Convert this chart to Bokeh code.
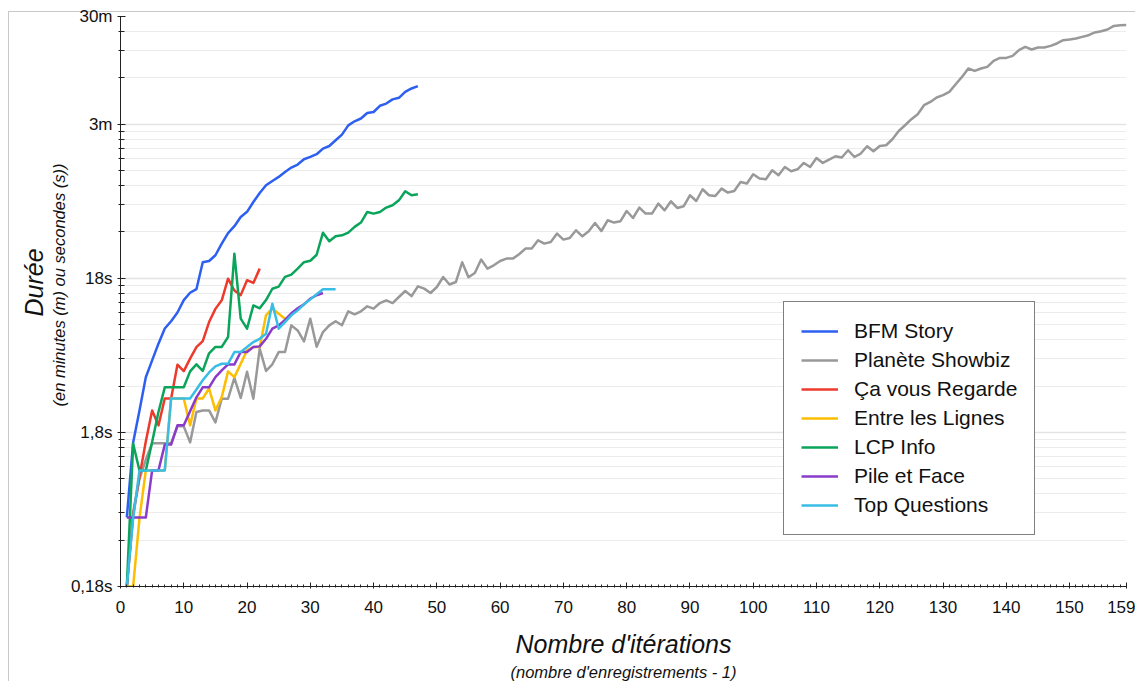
from bokeh.plotting import figure
from bokeh.models import (Range1d, FixedTicker, CustomJSTickFormatter, Legend,
                          LegendItem, Title)
from bokeh.embed import file_html
from bokeh.resources import INLINE

# ---------------- data (durations in seconds, iteration index starts at 1) ----
series_names = ["BFM Story", "Planète Showbiz", "Ça vous Regarde",
                "Entre les Lignes", "LCP Info", "Pile et Face", "Top Questions"]

bfm_story = [0.505, 1.55, 2.50, 4.10, 5.28, 6.78, 8.5, 9.47, 10.8, 13.0,
             14.5, 15.3, 22.9, 23.3, 25.4, 30.2, 35.4, 39.2, 45.0, 48.6,
             56.3, 64.4, 72.3, 77.1, 81.9, 88.2, 94.2, 98.5, 106.7, 110.4,
             115, 125, 130, 141.7, 154, 177, 188, 196, 213, 216,
             237, 245, 261, 267, 292, 307, 318]

planete_showbiz = [0.18, 0.55, 0.9, 1.2, 1.53, 1.53, 1.53, 1.53, 1.97, 1.97,
                   1.55, 2.44, 2.50, 2.50, 2.09, 2.98, 2.98, 4.07, 3.01, 4.46,
                   2.98, 6.30, 4.51, 4.98, 5.98, 5.98, 8.91, 8.26, 7.02, 9.85,
                   6.48, 8.06, 8.91, 9.47, 8.92, 10.99, 10.51, 10.99, 11.84, 11.44,
                   12.44, 12.96, 12.44, 13.61, 14.89, 13.79, 15.97, 15.43, 14.45, 15.80,
                   18.35, 16.41, 17.03, 22.86, 18.27, 19.48, 23.81, 20.81, 21.86, 23.31,
                   24.16, 24.16, 25.77, 28.06, 28.06, 31.77, 30.23, 30.97, 35.11, 32.10,
                   32.88, 36.89, 33.72, 36.34, 41.14, 36.50, 42.83, 41.39, 42.20, 49.22,
                   44.33, 51.79, 47.34, 47.34, 54.98, 49.74, 56.90, 51.48, 52.80, 62.25,
                   57.16, 68.08, 62.25, 61.59, 68.80, 64.81, 66.37, 75.93, 74.14, 85.20,
                   79.89, 79.06, 90.45, 83.93, 95.02, 89.10, 91.81, 100.9, 95.02, 108.7,
                   100.9, 106.1, 111.5, 109.4, 122.0, 110.3, 116.1, 129.5, 120.1, 130.1,
                   131.4, 143.8, 162.7, 177.2, 194.0, 209.0, 239.1, 251.2, 268.3, 277.7,
                   291.7, 327.3, 365.0, 413.9, 399.3, 413.9, 423.8, 463.7, 484.9, 484.9,
                   499.6, 544.1, 571.6, 549.8, 566.5, 566.5, 580.2, 601.4, 631.8, 638.4,
                   648.1, 663.7, 680.8, 708.9, 722.8, 741.4, 782.0, 790.6, 794.1]

ca_vous_regarde = [0.18, 0.52, 0.93, 1.57, 2.50, 2.00, 2.99, 2.99, 4.95, 4.50,
                   5.42, 6.44, 7.05, 9.36, 11.4, 12.95, 17.9, 15.0, 14.0, 17.5,
                   16.8, 20.8]

entre_les_lignes = [0.18, 0.18, 0.5, 1.02, 1.02, 1.02, 1.02, 2.99, 2.99, 2.99,
                    2.00, 2.99, 2.99, 3.47, 2.50, 3.05, 4.48, 4.11, 5.02, 6.13,
                    6.44, 6.44, 10.35, 11.49, 10.61, 9.85]

lcp_info = [0.18, 1.52, 1.02, 1.02, 1.56, 2.44, 3.53, 3.53, 3.53, 3.53,
            4.48, 4.98, 4.51, 5.87, 6.46, 6.46, 7.49, 26.0, 9.85, 8.48,
            12.0, 11.5, 13.0, 15.4, 15.9, 18.4, 19.0, 20.8, 22.9, 23.4,
            25.6, 35.6, 31.3, 33.7, 34.2, 35.6, 38.8, 41.4, 48.5, 47.3,
            48.5, 51.8, 53.6, 57.7, 66.1, 62.3, 63.2]

pile_et_face = [0.505, 0.505, 0.505, 0.505, 1.02, 1.02, 1.50, 1.50, 2.00, 2.00,
                2.47, 3.04, 3.53, 3.53, 4.11, 4.55, 4.97, 4.97, 5.98, 5.98,
                6.44, 6.51, 7.29, 8.48, 8.91, 9.67, 10.68, 11.49, 12.20, 13.29,
                13.97, 14.44]

top_questions = [0.18, 0.5, 1.02, 1.02, 1.02, 1.02, 1.02, 2.99, 2.99, 2.99,
                 2.99, 3.42, 3.92, 4.41, 4.83, 5.02, 5.02, 5.98, 5.98, 6.44,
                 6.94, 7.29, 7.87, 12.3, 8.48, 9.35, 10.35, 11.15, 12.20, 13.14,
                 14.17, 15.27, 15.27, 15.27]

series_values = [bfm_story, planete_showbiz, ca_vous_regarde, entre_les_lignes,
                 lcp_info, pile_et_face, top_questions]
series_colors = ["#2d5ff0", "#999999", "#ee3a2c", "#fdbd00",
                 "#0aa45a", "#8b3bcb", "#38bde6"]

# axis ticks / labels
x_major_ticks = [0, 10, 20, 30, 40, 50, 60, 70, 80, 90, 100, 110, 120, 130, 140, 150, 159]
y_major_ticks = [0.18, 1.8, 18, 180, 900]
y_major_labels = ["0,18s", "1,8s", "18s", "3m", "30m"]

# ---------------- figure ---------------------------------------------------------
FONT = "Liberation Sans"
TXT = "#111111"
FRAME_LINE = "#c8c8c8"

p = figure(width=1135, height=681,
           x_range=Range1d(0, 159), y_range=Range1d(0.18, 900),
           y_axis_type="log", output_backend="svg", toolbar_location=None,
           min_border_left=120, min_border_right=9,
           min_border_top=16, min_border_bottom=95,
           background_fill_color="white", border_fill_alpha=0)
p.styles = {
    "background": (f"linear-gradient({FRAME_LINE},{FRAME_LINE}) 8px 11px / 100% 1px no-repeat, "
                   f"linear-gradient({FRAME_LINE},{FRAME_LINE}) 8px 11px / 1px 100% no-repeat, white"),
}
p.outline_line_color = None

renderers = []
for name, vals, col in zip(series_names, series_values, series_colors):
    xs = list(range(1, len(vals) + 1))
    r = p.line(xs, vals, line_color=col, line_width=2.5, line_join="round")
    renderers.append(r)

# x axis
p.xaxis.ticker = FixedTicker(ticks=x_major_ticks, minor_ticks=list(range(0, 160)))
p.xaxis.major_tick_in = 4
p.xaxis.major_tick_out = 2
p.xaxis.minor_tick_in = 2
p.xaxis.minor_tick_out = 1
p.xaxis.major_label_standoff = 12
p.xaxis.axis_label = "Nombre d'itérations"
p.xaxis.axis_label_standoff = 14
p.xaxis.axis_label_text_font = FONT
p.xaxis.axis_label_text_font_size = "25px"
p.xaxis.axis_label_text_font_style = "italic"
p.xaxis.axis_label_text_color = TXT
p.xgrid.visible = False

# y axis
y_minor = [b * k for b in [0.18, 1.8, 18, 180] for k in range(2, 10) if b * k <= 900]
p.yaxis.ticker = FixedTicker(ticks=y_major_ticks, minor_ticks=y_minor)
p.yaxis.formatter = CustomJSTickFormatter(args=dict(vals=y_major_ticks, labs=y_major_labels), code="""
    for (let i = 0; i < vals.length; i++) {
        if (Math.abs(tick - vals[i]) / vals[i] < 1e-6) return labs[i];
    }
    return '';
""")
p.yaxis.major_tick_in = 5
p.yaxis.major_tick_out = 3
p.yaxis.minor_tick_in = 4
p.yaxis.minor_tick_out = 2
p.yaxis.major_label_standoff = 5

for ax in (p.xaxis[0], p.yaxis[0]):
    ax.axis_line_color = "#222222"
    ax.major_tick_line_color = "#222222"
    ax.minor_tick_line_color = "#222222"
    ax.major_label_text_font = FONT
    ax.major_label_text_font_size = "17px"
    ax.major_label_text_color = TXT

p.ygrid.grid_line_color = "#e4e4e4"
p.ygrid.grid_line_width = 1.5
p.ygrid.minor_grid_line_color = "#ececec"
p.ygrid.minor_grid_line_width = 1.2

# axis titles
p.add_layout(Title(text="(en minutes (m) ou secondes (s))", align="left", offset=180,
                   text_font=FONT, text_font_size="16.5px", text_font_style="italic",
                   text_color=TXT, standoff=0), "left")
p.add_layout(Title(text="Durée", align="left", offset=270,
                   text_font=FONT, text_font_size="25px", text_font_style="italic",
                   text_color=TXT, standoff=0), "left")
p.add_layout(Title(text="(nombre d'enregistrements - 1)", align="center",
                   text_font=FONT, text_font_size="16.5px", text_font_style="italic",
                   text_color=TXT, standoff=0), "below")

# legend
legend = Legend(items=[LegendItem(label=n, renderers=[r]) for n, r in zip(series_names, renderers)],
                location=(663, 51), orientation="vertical",
                label_text_font=FONT, label_text_font_size="21px", label_text_color=TXT,
                glyph_width=37, glyph_height=20, label_height=20, label_standoff=16,
                spacing=5, padding=17, margin=0,
                border_line_color="black", border_line_width=1,
                background_fill_color="white", background_fill_alpha=1.0)
p.add_layout(legend)

open("out.html", "w").write(file_html(p, INLINE))
